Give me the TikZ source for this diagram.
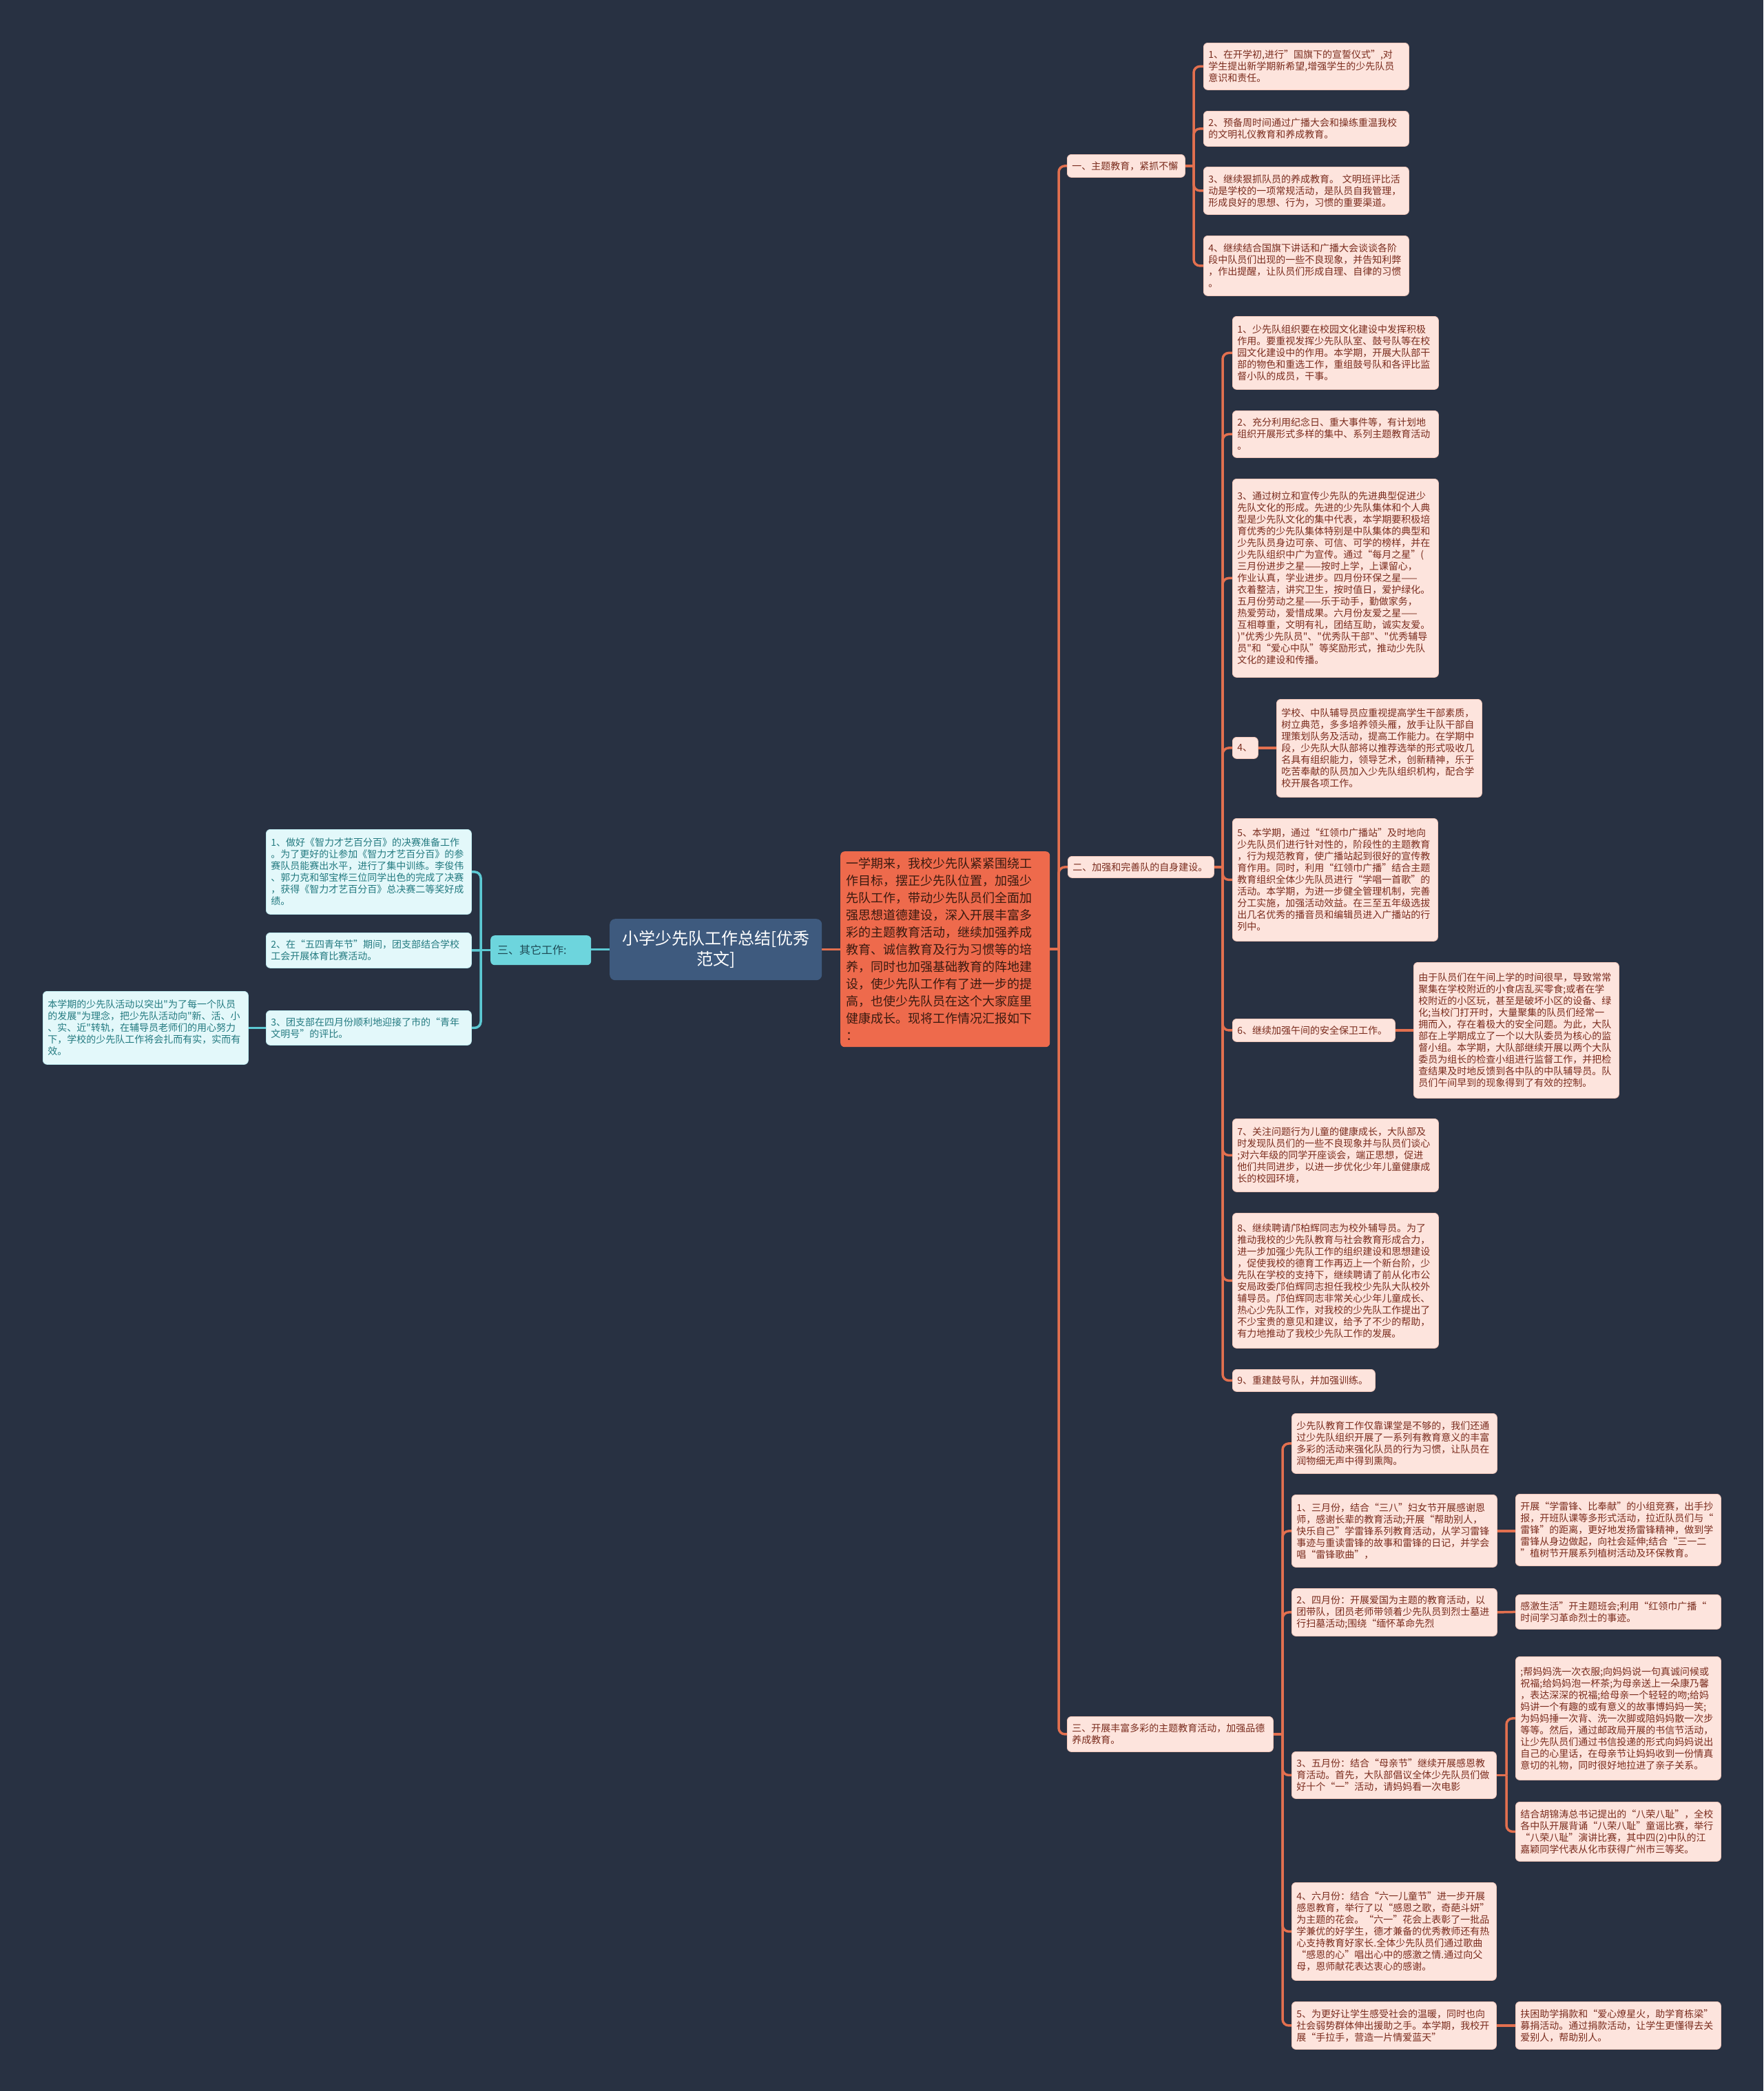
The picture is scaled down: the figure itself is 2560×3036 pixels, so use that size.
\documentclass[tikz,border=0pt]{standalone}
\usepackage{fontspec}
\newfontfamily\cjk{Noto Sans CJK SC}
\definecolor{bgc}{HTML}{283142}
\definecolor{oline}{HTML}{E3704F}
\definecolor{leaffill}{HTML}{FDE4DD}
\definecolor{leafedge}{HTML}{F2C7BA}
\definecolor{leaftext}{HTML}{7A2C1E}
\definecolor{introfill}{HTML}{EE6A4C}
\definecolor{introtext}{HTML}{3A1A10}
\definecolor{titlefill}{HTML}{3E5A7E}
\definecolor{cline}{HTML}{5CC9D3}
\definecolor{cyanlab}{HTML}{6DD5DD}
\definecolor{cyanlabtext}{HTML}{1E4A55}
\definecolor{cyanfill}{HTML}{E3F8FA}
\definecolor{cyanedge}{HTML}{BDEAEF}
\definecolor{cyantext}{HTML}{237A80}
\pgfdeclarelayer{edges}
\pgfsetlayers{edges,main}
\tikzset{
  box/.style={rounded corners=6pt, inner xsep=7pt, inner ysep=5pt, anchor=north west, align=left, font=\cjk\fontsize{14}{17}\selectfont},
  leaf/.style={box, fill=leaffill, text=leaftext, draw=leafedge, line width=0.8pt},
  cleaf/.style={box, fill=cyanfill, text=cyantext, draw=cyanedge, line width=0.8pt},
  oconn/.style={draw=oline, line width=3.5pt},
  cconn/.style={draw=cline, line width=3.5pt},
  rbend/.style={rounded corners=9pt}
}
\begin{document}
\begin{tikzpicture}[x=1pt,y=-1pt]
\begin{pgfonlayer}{edges}
\path[use as bounding box, fill=bgc] (0,0) rectangle (2560,3036);
\end{pgfonlayer}

% centre
\node[box, anchor=north west, fill=titlefill, text=white, align=center, rounded corners=8pt, inner xsep=8pt, font=\cjk\fontsize{24}{30}\selectfont, text width=292pt, minimum height=89pt] (title) at (885,1334) {小学少先队工作总结[优秀\\范文]};
\node[box, fill=introfill, text=introtext, inner xsep=8pt, font=\cjk\fontsize{18}{25}\selectfont, text width=288pt, minimum height=284pt] (intro) at (1220,1236) {一学期来，我校少先队紧紧围绕工\\作目标，摆正少先队位置，加强少\\先队工作，带动少先队员们全面加\\强思想道德建设，深入开展丰富多\\彩的主题教育活动，继续加强养成\\教育、诚信教育及行为习惯等的培\\养，同时也加强基础教育的阵地建\\设，使少先队工作有了进一步的提\\高，也使少先队员在这个大家庭里\\健康成长。现将工作情况汇报如下\\：};

% left branch
\node[box, fill=cyanlab, text=cyanlabtext, inner xsep=10pt, font=\cjk\fontsize{16}{20}\selectfont, text width=126pt, minimum height=43pt] (lab) at (712,1358) {三、其它工作:};
\node[cleaf, text width=284pt, minimum height=123pt] (c1) at (386,1204) {1、做好《智力才艺百分百》的决赛准备工作\\。为了更好的让参加《智力才艺百分百》的参\\赛队员能赛出水平，进行了集中训练。李俊伟\\、郭力克和邹宝桦三位同学出色的完成了决赛\\，获得《智力才艺百分百》总决赛二等奖好成\\绩。};
\node[cleaf, text width=284pt, minimum height=51pt] (c2) at (386,1354) {2、在“五四青年节”期间，团支部结合学校\\工会开展体育比赛活动。};
\node[cleaf, text width=284pt, minimum height=50pt] (c3) at (386,1467) {3、团支部在四月份顺利地迎接了市的“青年\\文明号”的评比。};
\node[cleaf, text width=284pt, minimum height=106pt] (c3d) at (62,1439) {本学期的少先队活动以突出"为了每一个队员\\的发展"为理念，把少先队活动向"新、活、小\\、实、近"转轨，在辅导员老师们的用心努力\\下，学校的少先队工作将会扎而有实，实而有\\效。};

% section 1
\node[leaf, text width=157pt, minimum height=33pt] (s1) at (1549,224) {一、主题教育，紧抓不懈};
\node[leaf, text width=284pt, minimum height=68pt] (n11) at (1747,62) {1、在开学初,进行”国旗下的宣誓仪式”,对\\学生提出新学期新希望,增强学生的少先队员\\意识和责任。};
\node[leaf, text width=284pt, minimum height=51pt] (n12) at (1747,161) {2、预备周时间通过广播大会和操练重温我校\\的文明礼仪教育和养成教育。};
\node[leaf, text width=284pt, minimum height=69pt] (n13) at (1747,242) {3、继续狠抓队员的养成教育。 文明班评比活\\动是学校的一项常规活动，是队员自我管理，\\形成良好的思想、行为，习惯的重要渠道。};
\node[leaf, text width=284pt, minimum height=87pt] (n14) at (1747,342) {4、继续结合国旗下讲话和广播大会谈谈各阶\\段中队员们出现的一些不良现象，并告知利弊\\，作出提醒，让队员们形成自理、自律的习惯\\。};

% section 2
\node[leaf, text width=198pt, minimum height=31pt] (s2) at (1550,1243) {二、加强和完善队的自身建设。};
\node[leaf, text width=285pt, minimum height=106pt] (n21) at (1789,459) {1、少先队组织要在校园文化建设中发挥积极\\作用。要重视发挥少先队队室、鼓号队等在校\\园文化建设中的作用。本学期，开展大队部干\\部的物色和重选工作，重组鼓号队和各评比监\\督小队的成员，干事。};
\node[leaf, text width=285pt, minimum height=68pt] (n22) at (1789,596) {2、充分利用纪念日、重大事件等，有计划地\\组织开展形式多样的集中、系列主题教育活动\\。};
\node[leaf, text width=285pt, minimum height=288pt] (n23) at (1789,695) {3、通过树立和宣传少先队的先进典型促进少\\先队文化的形成。先进的少先队集体和个人典\\型是少先队文化的集中代表，本学期要积极培\\育优秀的少先队集体特别是中队集体的典型和\\少先队员身边可亲、可信、可学的榜样，并在\\少先队组织中广为宣传。通过“每月之星”(\\三月份进步之星——按时上学，上课留心，\\作业认真，学业进步。四月份环保之星——\\衣着整洁，讲究卫生，按时值日，爱护绿化。\\五月份劳动之星——乐于动手，勤做家务，\\热爱劳动，爱惜成果。六月份友爱之星——\\互相尊重，文明有礼，团结互助，诚实友爱。\\)"优秀少先队员"、"优秀队干部"、"优秀辅导\\员"和“爱心中队”等奖励形式，推动少先队\\文化的建设和传播。};
\node[leaf, text width=23pt, minimum height=31pt] (n24) at (1789,1070) {4、};
\node[leaf, text width=284pt, minimum height=142pt] (n24d) at (1853,1015) {学校、中队辅导员应重视提高学生干部素质，\\树立典范，多多培养领头雁，放手让队干部自\\理策划队务及活动，提高工作能力。在学期中\\段，少先队大队部将以推荐选举的形式吸收几\\名具有组织能力，领导艺术，创新精神，乐于\\吃苦奉献的队员加入少先队组织机构，配合学\\校开展各项工作。};
\node[leaf, text width=284pt, minimum height=178pt] (n25) at (1789,1188) {5、本学期，通过“红领巾广播站”及时地向\\少先队员们进行针对性的，阶段性的主题教育\\，行为规范教育，使广播站起到很好的宣传教\\育作用。同时，利用“红领巾广播”结合主题\\教育组织全体少先队员进行“学唱一首歌”的\\活动。本学期，为进一步健全管理机制，完善\\分工实施，加强活动效益。在三至五年级选拔\\出几名优秀的播音员和编辑员进入广播站的行\\列中。};
\node[leaf, text width=222pt, minimum height=33pt] (n26) at (1789,1479) {6、继续加强午间的安全保卫工作。};
\node[leaf, text width=284pt, minimum height=197pt] (n26d) at (2052,1397) {由于队员们在午间上学的时间很早，导致常常\\聚集在学校附近的小食店乱买零食;或者在学\\校附近的小区玩，甚至是破坏小区的设备、绿\\化;当校门打开时，大量聚集的队员们经常一\\拥而入，存在着极大的安全问题。为此，大队\\部在上学期成立了一个以大队委员为核心的监\\督小组。本学期，大队部继续开展以两个大队\\委员为组长的检查小组进行监督工作，并把检\\查结果及时地反馈到各中队的中队辅导员。队\\员们午间早到的现象得到了有效的控制。};
\node[leaf, text width=285pt, minimum height=106pt] (n27) at (1789,1624) {7、关注问题行为儿童的健康成长，大队部及\\时发现队员们的一些不良现象并与队员们谈心\\;对六年级的同学开座谈会，端正思想，促进\\他们共同进步，以进一步优化少年儿童健康成\\长的校园环境，};
\node[leaf, text width=285pt, minimum height=196pt] (n28) at (1789,1761) {8、继续聘请邝柏辉同志为校外辅导员。为了\\推动我校的少先队教育与社会教育形成合力，\\进一步加强少先队工作的组织建设和思想建设\\，促使我校的德育工作再迈上一个新台阶，少\\先队在学校的支持下，继续聘请了前从化市公\\安局政委邝伯辉同志担任我校少先队大队校外\\辅导员。邝伯辉同志非常关心少年儿童成长、\\热心少先队工作，对我校的少先队工作提出了\\不少宝贵的意见和建议，给予了不少的帮助，\\有力地推动了我校少先队工作的发展。};
\node[leaf, text width=193pt, minimum height=32pt] (n29) at (1789,1988) {9、重建鼓号队，并加强训练。};

% section 3
\node[leaf, text width=285pt, minimum height=51pt] (s3) at (1549,2492) {三、开展丰富多彩的主题教育活动，加强品德\\养成教育。};
\node[leaf, text width=284pt, minimum height=87pt] (n30) at (1875,2052) {少先队教育工作仅靠课堂是不够的，我们还通\\过少先队组织开展了一系列有教育意义的丰富\\多彩的活动来强化队员的行为习惯，让队员在\\润物细无声中得到熏陶。};
\node[leaf, text width=284pt, minimum height=105pt] (n31) at (1875,2170) {1、三月份，结合“三八”妇女节开展感谢恩\\师，感谢长辈的教育活动;开展“帮助别人，\\快乐自己”学雷锋系列教育活动，从学习雷锋\\事迹与重读雷锋的故事和雷锋的日记，并学会\\唱“雷锋歌曲”，};
\node[leaf, text width=284pt, minimum height=104pt] (n31d) at (2200,2169) {开展“学雷锋、比奉献”的小组竞赛，出手抄\\报，开班队课等多形式活动，拉近队员们与“\\雷锋”的距离，更好地发扬雷锋精神，做到学\\雷锋从身边做起，向社会延伸;结合“三一二\\”植树节开展系列植树活动及环保教育。};
\node[leaf, text width=284pt, minimum height=69pt] (n32) at (1875,2306) {2、四月份：开展爱国为主题的教育活动，以\\团带队，团员老师带领着少先队员到烈士墓进\\行扫墓活动;围绕“缅怀革命先烈};
\node[leaf, text width=284pt, minimum height=50pt] (n32d) at (2200,2315) {感激生活”开主题班会;利用“红领巾广播“\\时间学习革命烈士的事迹。};
\node[leaf, text width=283pt, minimum height=68pt] (n33) at (1875,2543) {3、五月份：结合“母亲节”继续开展感恩教\\育活动。首先，大队部倡议全体少先队员们做\\好十个“一”活动，请妈妈看一次电影};
\node[leaf, text width=284pt, minimum height=179pt] (n33a) at (2200,2405) {;帮妈妈洗一次衣服;向妈妈说一句真诚问候或\\祝福;给妈妈泡一杯茶;为母亲送上一朵康乃馨\\，表达深深的祝福;给母亲一个轻轻的吻;给妈\\妈讲一个有趣的或有意义的故事博妈妈一笑;\\为妈妈捶一次背、洗一次脚或陪妈妈散一次步\\等等。然后，通过邮政局开展的书信节活动，\\让少先队员们通过书信投递的形式向妈妈说出\\自己的心里话，在母亲节让妈妈收到一份情真\\意切的礼物，同时很好地拉进了亲子关系。};
\node[leaf, text width=284pt, minimum height=86pt] (n33b) at (2200,2616) {结合胡锦涛总书记提出的“八荣八耻”，全校\\各中队开展背诵“八荣八耻”童谣比赛，举行\\“八荣八耻”演讲比赛，其中四(2)中队的江\\嘉颖同学代表从化市获得广州市三等奖。};
\node[leaf, text width=283pt, minimum height=142pt] (n34) at (1875,2733) {4、六月份：结合“六一儿童节”进一步开展\\感恩教育，举行了以“感恩之歌，奇葩斗妍”\\为主题的花会。“六一”花会上表彰了一批品\\学兼优的好学生，德才兼备的优秀教师还有热\\心支持教育好家长.全体少先队员们通过歌曲\\“感恩的心”唱出心中的感激之情.通过向父\\母，恩师献花表达衷心的感谢。};
\node[leaf, text width=283pt, minimum height=69pt] (n35) at (1875,2906) {5、为更好让学生感受社会的温暖，同时也向\\社会弱势群体伸出援助之手。本学期，我校开\\展“手拉手，营造一片情爱蓝天”};
\node[leaf, text width=284pt, minimum height=69pt] (n35d) at (2200,2906) {扶困助学捐款和“爱心燎星火，助学育栋梁”\\募捐活动。通过捐款活动，让学生更懂得去关\\爱别人，帮助别人。};

% bus coordinates
\coordinate (bm) at (1537,0);
\coordinate (b1) at (1733,0);
\coordinate (b2) at (1775,0);
\coordinate (b3) at (1862,0);
\coordinate (b33) at (2187,0);
\coordinate (bl) at (698,0);

\begin{pgfonlayer}{edges}
% centre
\draw[oconn] (title.east) -- (intro.west |- title.east);
\draw[cconn] (title.west) -- (lab.east |- title.west);
% main trunk
\draw[oconn] (intro.east) -- (intro.east -| bm);
\foreach \c in {s1,s2,s3} \draw[oconn,rbend] (intro.east -| bm) |- (\c.west);
% section 1
\draw[oconn] (s1.east) -- (s1.east -| b1);
\foreach \c in {n11,n12,n13,n14} \draw[oconn,rbend] (s1.east -| b1) |- (\c.west);
% section 2
\draw[oconn] (s2.east) -- (s2.east -| b2);
\foreach \c in {n21,n22,n23,n24,n25,n26,n27,n28,n29} \draw[oconn,rbend] (s2.east -| b2) |- (\c.west);
\draw[oconn] (n24.east) -- (n24.east -| n24d.west);
\draw[oconn] (n26.east) -- (n26d.west);
% section 3
\draw[oconn] (s3.east) -- (s3.east -| b3);
\foreach \c in {n30,n31,n32,n33,n34,n35} \draw[oconn,rbend] (s3.east -| b3) |- (\c.west);
\draw[oconn] (n31.east) -- (n31.east -| n31d.west);
\draw[oconn] (n32.east) -- (n32d.west);
\draw[oconn] (n33.east) -- (n33.east -| b33);
\foreach \c in {n33a,n33b} \draw[oconn,rbend] (n33.east -| b33) |- (\c.west);
\draw[oconn] (n35.east) -- (n35d.west);
% left
\draw[cconn] (lab.west) -- (lab.west -| bl);
\foreach \c in {c1,c3} \draw[cconn,rbend] (lab.west -| bl) |- (\c.east);
\draw[cconn] (lab.west -| bl) -- (c2.east);
\draw[cconn] (c3.west) -- (c3d.east);
\end{pgfonlayer}
\end{tikzpicture}
\end{document}
